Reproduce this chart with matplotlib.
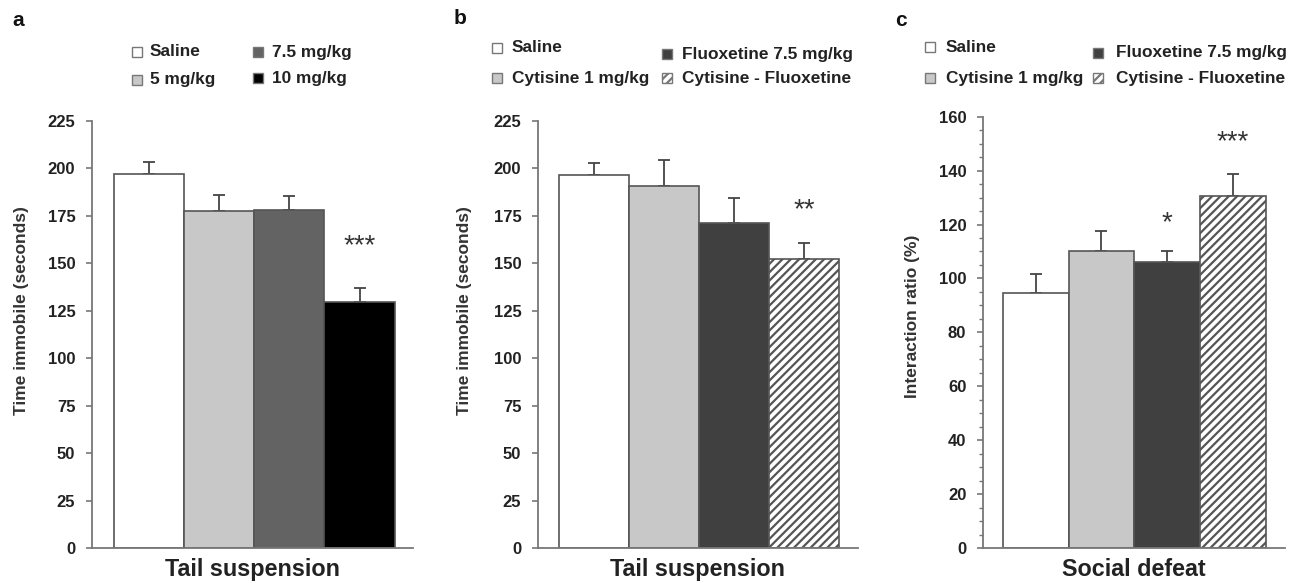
import matplotlib
matplotlib.use("Agg")
import matplotlib.pyplot as plt
from matplotlib.patches import Rectangle

plt.rcParams['font.family'] = ['Liberation Sans', 'DejaVu Sans']
plt.rcParams['hatch.linewidth'] = 1.6

W, H = 1306, 583

# ---------------- data ----------------
a_labels = ["Saline", "5 mg/kg", "7.5 mg/kg", "10 mg/kg"]
a_values = [197, 177.5, 178, 129.5]
a_errors = [6.5, 8.5, 7.5, 7.5]
a_colors = ["#ffffff", "#c8c8c8", "#636363", "#000000"]
a_sig = ["", "", "", "***"]

b_labels = ["Saline", "Cytisine 1 mg/kg", "Fluoxetine 7.5 mg/kg", "Cytisine - Fluoxetine"]
b_values = [196.5, 190.5, 171, 152.5]
b_errors = [6.5, 14, 13.5, 8]
b_sig = ["", "", "", "**"]

c_labels = ["Saline", "Cytisine 1 mg/kg", "Fluoxetine 7.5 mg/kg", "Cytisine - Fluoxetine"]
c_values = [94.7, 110, 106, 130.5]
c_errors = [6.8, 7.7, 4, 8.2]
c_sig = ["", "", "*", "***"]

bc_colors = ["#ffffff", "#c8c8c8", "#404040", "#ffffff"]
bc_hatches = [None, None, None, "////"]

fig = plt.figure(figsize=(W / 100, H / 100), dpi=100)


def px_axes(x0, x1, ytop, ybot):
    return fig.add_axes([x0 / W, (H - ybot) / H, (x1 - x0) / W, (ybot - ytop) / H])


def style(ax, ymax, major, minor=None):
    for s in ["top", "right"]:
        ax.spines[s].set_visible(False)
    for s in ["left", "bottom"]:
        ax.spines[s].set_color("#777777")
        ax.spines[s].set_linewidth(1.3)
    ax.set_ylim(0, ymax)
    ax.set_yticks(list(range(0, ymax + 1, major)))
    if minor:
        ax.set_yticks(list(range(0, ymax + 1, minor)), minor=True)
        ax.tick_params(axis="y", which="minor", length=3, width=1, color="#777777", direction="out")
    ax.set_xticks([])
    ax.tick_params(axis="y", which="major", length=4, width=1.2, color="#777777", pad=8,
                   labelsize=12, labelcolor="#222222")
    for t in ax.get_yticklabels():
        t.set_fontweight("bold")


def draw_bars(ax, values, errors, colors, hatches, sig, sig_y, xlim):
    xs = list(range(len(values)))
    for i in xs:
        ax.bar(i, values[i], width=1.0, color=colors[i], edgecolor="#555555", linewidth=1.2,
               hatch=hatches[i] if hatches else None, zorder=2)
    ax.errorbar(xs, values, yerr=[[0] * len(values), errors], fmt="none", ecolor="#444444",
                elinewidth=1.3, capsize=4, capthick=1.3, zorder=1)
    ax.set_xlim(*xlim)
    for i in xs:
        if sig[i]:
            ax.text(i, sig_y[i], sig[i], ha="center", va="center", fontsize=20, color="#333333")


def labels(ax, ylab, xlab, ly_x, ly_y):
    ax.set_ylabel(ylab, fontsize=12.5, fontweight="bold", color="#333333")
    ax.yaxis.set_label_coords(ly_x, ly_y)
    ax.set_xlabel(xlab, fontsize=16.8, fontweight="bold", color="#222222", labelpad=7)


def legend_entry(x_marker, x_text, y, label, color, hatch=None):
    s = 10
    r = Rectangle((x_marker / W, (H - y - s / 2) / H), s / W, s / H, transform=fig.transFigure,
                  facecolor=color, edgecolor="#777777", linewidth=1.0, hatch=hatch)
    fig.patches.append(r)
    fig.text(x_text / W, (H - y) / H, label, ha="left", va="center", fontsize=12.4,
             fontweight="bold", color="#222222")


# ---------------- panel a ----------------
axa = px_axes(92, 413, 121, 548)
style(axa, 225, 25)
draw_bars(axa, a_values, a_errors, a_colors, None, a_sig, [0, 0, 0, 159], (-0.82, 3.764))
labels(axa, "Time immobile (seconds)", "Tail suspension", -0.196, 0.555)

# ---------------- panel b ----------------
axb = px_axes(538, 858, 121, 548)
style(axb, 225, 25)
draw_bars(axb, b_values, b_errors, bc_colors, bc_hatches, b_sig, [0, 0, 0, 178], (-0.804, 3.767))
labels(axb, "Time immobile (seconds)", "Tail suspension", -0.206, 0.555)

# ---------------- panel c ----------------
axc = px_axes(983, 1285, 116.7, 548)
style(axc, 160, 20, 5)
draw_bars(axc, c_values, c_errors, bc_colors, bc_hatches, c_sig, [0, 0, 120.5, 150.5], (-0.80, 3.79))
labels(axc, "Interaction ratio (%)", "Social defeat", -0.209, 0.538)

# ---------------- legends ----------------
legend_entry(132, 150, 52, a_labels[0], a_colors[0])
legend_entry(132, 150, 80, a_labels[1], a_colors[1])
legend_entry(253, 272, 52, a_labels[2], a_colors[2])
legend_entry(253, 272, 78, a_labels[3], a_colors[3])

legend_entry(492, 512, 48, b_labels[0], bc_colors[0])
legend_entry(492, 512, 78, b_labels[1], bc_colors[1])
legend_entry(662, 682, 54, b_labels[2], bc_colors[2])
legend_entry(662, 682, 78, b_labels[3], bc_colors[3], "////")

legend_entry(925, 946, 47, c_labels[0], bc_colors[0])
legend_entry(925, 946, 78, c_labels[1], bc_colors[1])
legend_entry(1093, 1116, 53, c_labels[2], bc_colors[2])
legend_entry(1093, 1116, 78, c_labels[3], bc_colors[3], "////")

# ---------------- panel letters ----------------
for x, y, t in [(12, 21, "a"), (454, 18, "b"), (895, 20, "c")]:
    fig.text(x / W, (H - y) / H, t, ha="left", va="center", fontsize=15, fontweight="bold", color="#111111")

fig.savefig("out.png", dpi=100)
